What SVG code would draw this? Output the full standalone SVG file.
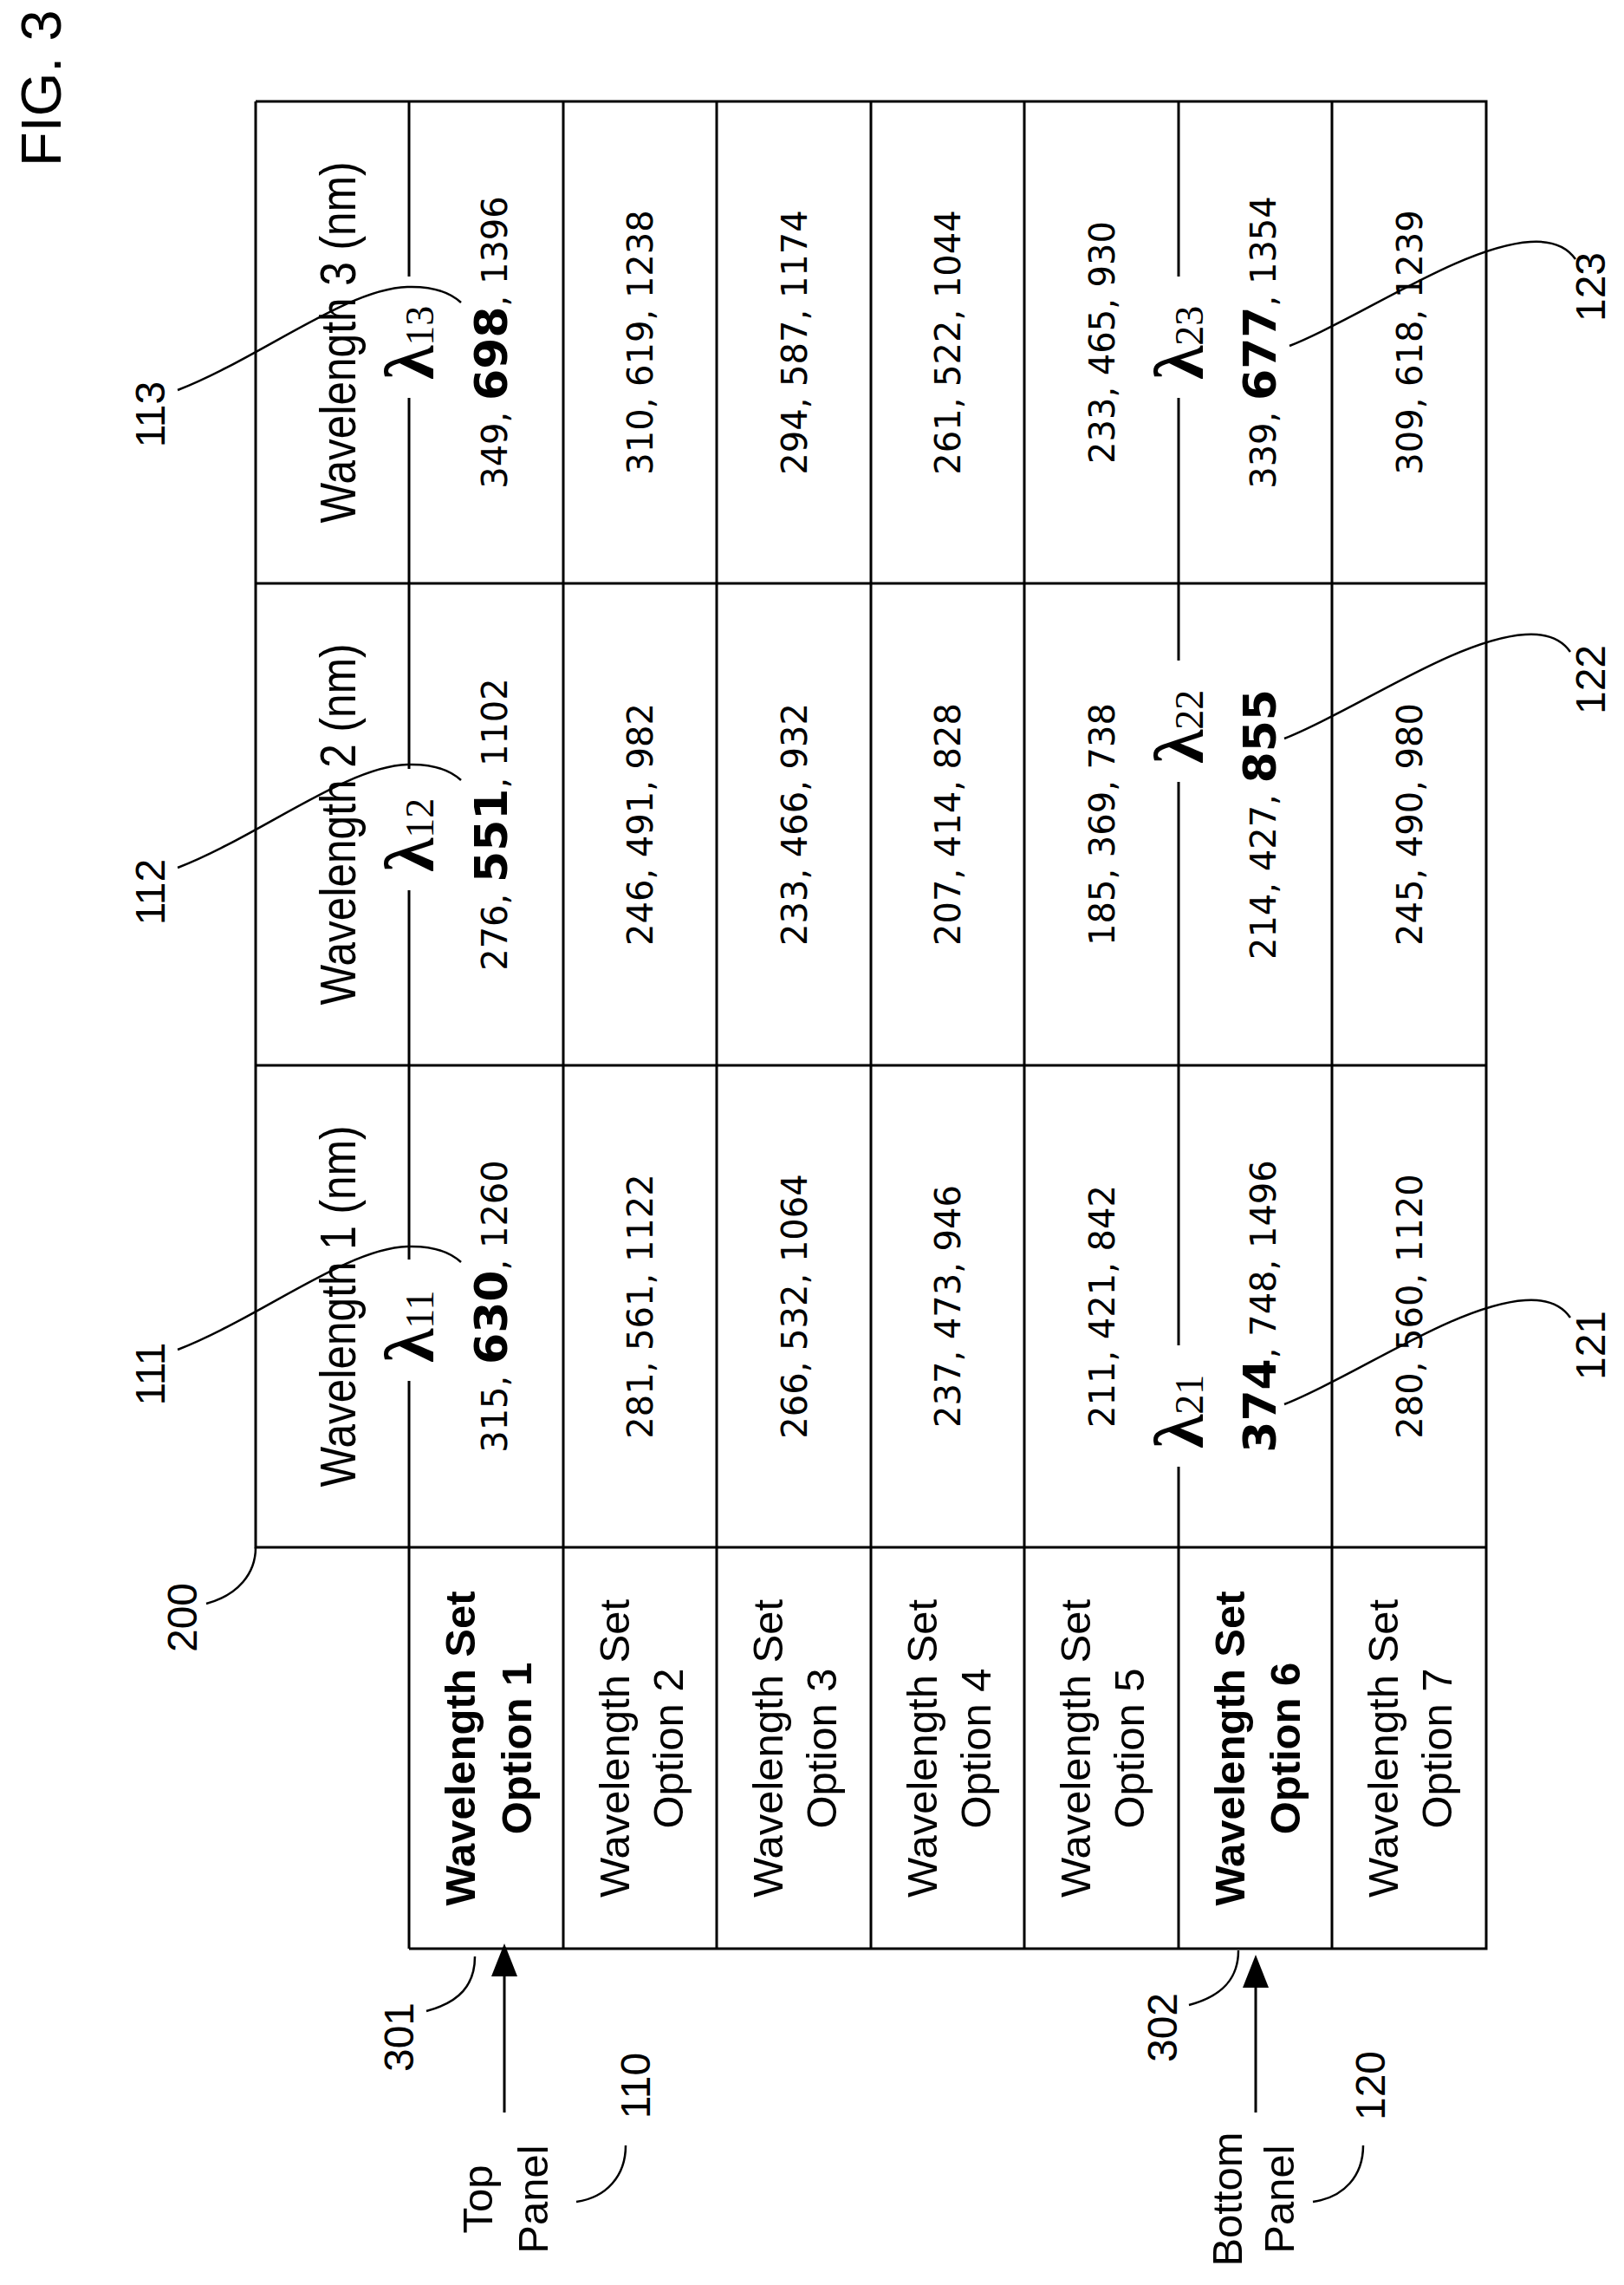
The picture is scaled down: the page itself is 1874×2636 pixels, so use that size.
<svg xmlns="http://www.w3.org/2000/svg" width="1874" height="2636" viewBox="0 0 1874 2636">
<style>
.ln{stroke:#000;stroke-width:3;fill:none}
.ld{stroke:#000;stroke-width:2.5;fill:none}
.hd{font-family:"Liberation Sans",Arial,sans-serif;font-size:58px;fill:#000}
.num{font-family:"DejaVu Sans",Verdana,sans-serif;font-size:40px;fill:#000;text-anchor:middle}
.num tspan.b{font-weight:bold;font-size:52px}
.lab{font-family:"Liberation Sans",Arial,sans-serif;font-size:48px;fill:#000;text-anchor:middle}
.rl{font-family:"Liberation Sans",Arial,sans-serif;font-size:49px;fill:#000;text-anchor:middle}
.rl.b{font-weight:bold}
.lam{font-family:"Liberation Serif","Times New Roman",serif;font-size:80px;font-weight:bold;fill:#000}
.lam tspan{font-size:46px;font-weight:normal}
</style>
<rect width="1874" height="2636" fill="#fff"/>
<text transform="translate(70,192) rotate(-90)" font-family="Liberation Sans,Arial,sans-serif" font-size="65">FIG. 3</text>
<g id="table">
<path class="ln" d="M295 117H1715V2248H472M295 117V1785H1715M295 673H1715M295 1229H1715"/>
<path class="ln" d="M472 117V319M472 459V887M472 1027V1453M472 1593V2248"/>
<path class="ln" d="M1360 117V319M1360 459V762M1360 902V1552M1360 1692V2248"/>
<path class="ln" d="M650 117V2248M827 117V2248M1005 117V2248M1182 117V2248M1537 117V2248"/>
</g>
<g id="headers">
<text class="hd" text-anchor="middle" textLength="417" lengthAdjust="spacingAndGlyphs" transform="translate(410,1507) rotate(-90)">Wavelength 1 (nm)</text>
<text class="hd" text-anchor="middle" textLength="417" lengthAdjust="spacingAndGlyphs" transform="translate(410,951) rotate(-90)">Wavelength 2 (nm)</text>
<text class="hd" text-anchor="middle" textLength="417" lengthAdjust="spacingAndGlyphs" transform="translate(410,395) rotate(-90)">Wavelength 3 (nm)</text>
</g>
<g id="lambdas">
<text class="lam" transform="translate(500,1572) rotate(-90)">λ<tspan>11</tspan></text>
<text class="lam" transform="translate(500,1006) rotate(-90)">λ<tspan>12</tspan></text>
<text class="lam" transform="translate(500,438) rotate(-90)">λ<tspan>13</tspan></text>
<text class="lam" transform="translate(1388,1671) rotate(-90)">λ<tspan>21</tspan></text>
<text class="lam" transform="translate(1388,881) rotate(-90)">λ<tspan>22</tspan></text>
<text class="lam" transform="translate(1388,438) rotate(-90)">λ<tspan>23</tspan></text>
</g>
<g id="rowlabels">
<text class="rl b" transform="translate(548,2017) rotate(-90)">Wavelength Set</text>
<text class="rl b" transform="translate(613,2017) rotate(-90)">Option 1</text>
<text class="rl" transform="translate(726,2017) rotate(-90)">Wavelength Set</text>
<text class="rl" transform="translate(788,2017) rotate(-90)">Option 2</text>
<text class="rl" transform="translate(903,2017) rotate(-90)">Wavelength Set</text>
<text class="rl" transform="translate(965,2017) rotate(-90)">Option 3</text>
<text class="rl" transform="translate(1081,2017) rotate(-90)">Wavelength Set</text>
<text class="rl" transform="translate(1143,2017) rotate(-90)">Option 4</text>
<text class="rl" transform="translate(1258,2017) rotate(-90)">Wavelength Set</text>
<text class="rl" transform="translate(1320,2017) rotate(-90)">Option 5</text>
<text class="rl b" transform="translate(1436,2017) rotate(-90)">Wavelength Set</text>
<text class="rl b" transform="translate(1500,2017) rotate(-90)">Option 6</text>
<text class="rl" transform="translate(1613,2017) rotate(-90)">Wavelength Set</text>
<text class="rl" transform="translate(1675,2017) rotate(-90)">Option 7</text>
</g>
<g id="values">
<text class="num" transform="translate(585,1507) rotate(-90)">315, <tspan class="b">630</tspan>, 1260</text>
<text class="num" transform="translate(753,1507) rotate(-90)">281, 561, 1122</text>
<text class="num" transform="translate(931,1507) rotate(-90)">266, 532, 1064</text>
<text class="num" transform="translate(1108,1507) rotate(-90)">237, 473, 946</text>
<text class="num" transform="translate(1286,1507) rotate(-90)">211, 421, 842</text>
<text class="num" transform="translate(1472,1507) rotate(-90)"><tspan class="b">374</tspan>, 748, 1496</text>
<text class="num" transform="translate(1641,1507) rotate(-90)">280, 560, 1120</text>
<text class="num" transform="translate(585,951) rotate(-90)">276, <tspan class="b">551</tspan>, 1102</text>
<text class="num" transform="translate(753,951) rotate(-90)">246, 491, 982</text>
<text class="num" transform="translate(931,951) rotate(-90)">233, 466, 932</text>
<text class="num" transform="translate(1108,951) rotate(-90)">207, 414, 828</text>
<text class="num" transform="translate(1286,951) rotate(-90)">185, 369, 738</text>
<text class="num" transform="translate(1472,951) rotate(-90)">214, 427, <tspan class="b">855</tspan></text>
<text class="num" transform="translate(1641,951) rotate(-90)">245, 490, 980</text>
<text class="num" transform="translate(585,395) rotate(-90)">349, <tspan class="b">698</tspan>, 1396</text>
<text class="num" transform="translate(753,395) rotate(-90)">310, 619, 1238</text>
<text class="num" transform="translate(931,395) rotate(-90)">294, 587, 1174</text>
<text class="num" transform="translate(1108,395) rotate(-90)">261, 522, 1044</text>
<text class="num" transform="translate(1286,395) rotate(-90)">233, 465, 930</text>
<text class="num" transform="translate(1472,395) rotate(-90)">339, <tspan class="b">677</tspan>, 1354</text>
<text class="num" transform="translate(1641,395) rotate(-90)">309, 618, 1239</text>
</g>
<g id="panels">
<text class="rl" transform="translate(568,2537) rotate(-90)">Top</text>
<text class="rl" transform="translate(632,2537) rotate(-90)">Panel</text>
<text class="rl" transform="translate(1433,2537) rotate(-90)">Bottom</text>
<text class="rl" transform="translate(1493,2537) rotate(-90)">Panel</text>
</g>
<g id="refs">
<text class="lab" transform="translate(190,1585) rotate(-90)">111</text>
<text class="lab" transform="translate(190,1029) rotate(-90)">112</text>
<text class="lab" transform="translate(190,478) rotate(-90)">113</text>
<text class="lab" transform="translate(1852,1552) rotate(-90)">121</text>
<text class="lab" transform="translate(1852,784) rotate(-90)">122</text>
<text class="lab" transform="translate(1852,331) rotate(-90)">123</text>
<text class="lab" transform="translate(227,1866) rotate(-90)">200</text>
<text class="lab" transform="translate(477,2350) rotate(-90)">301</text>
<text class="lab" transform="translate(1358,2339) rotate(-90)">302</text>
<text class="lab" transform="translate(750,2406) rotate(-90)">110</text>
<text class="lab" transform="translate(1598,2406) rotate(-90)">120</text>
</g>
<g id="connectors">
<path class="ld" d="M205 1557C300 1520 400 1440 470 1438C500 1437 520 1445 532 1456"/>
<path class="ld" d="M205 1001C300 964 400 884 470 882C500 881 520 889 532 900"/>
<path class="ld" d="M205 450C300 413 400 333 470 331C500 330 520 338 532 349"/>
<path class="ld" d="M1482 1620C1560 1590 1680 1505 1760 1500C1790 1498 1805 1510 1812 1520"/>
<path class="ld" d="M1482 852C1560 822 1680 737 1760 732C1790 730 1805 742 1812 752"/>
<path class="ld" d="M1488 399C1566 369 1686 284 1766 279C1796 277 1811 289 1818 299"/>
<path class="ld" d="M238 1850C275 1840 295 1815 295 1785"/>
<path class="ld" d="M492 2320C530 2310 548 2290 548 2257"/>
<path class="ld" d="M1372 2313C1410 2303 1429 2283 1429 2250"/>
<path class="ld" d="M722 2475C722 2510 700 2535 665 2540"/>
<path class="ld" d="M1573 2475C1573 2510 1551 2535 1515 2540"/>
<path class="ln" d="M582 2437V2275M1449 2437V2290"/>
<polygon points="582,2242 567,2280 597,2280" fill="#000"/>
<polygon points="1449,2255 1434,2293 1464,2293" fill="#000"/>
</g>
</svg>
